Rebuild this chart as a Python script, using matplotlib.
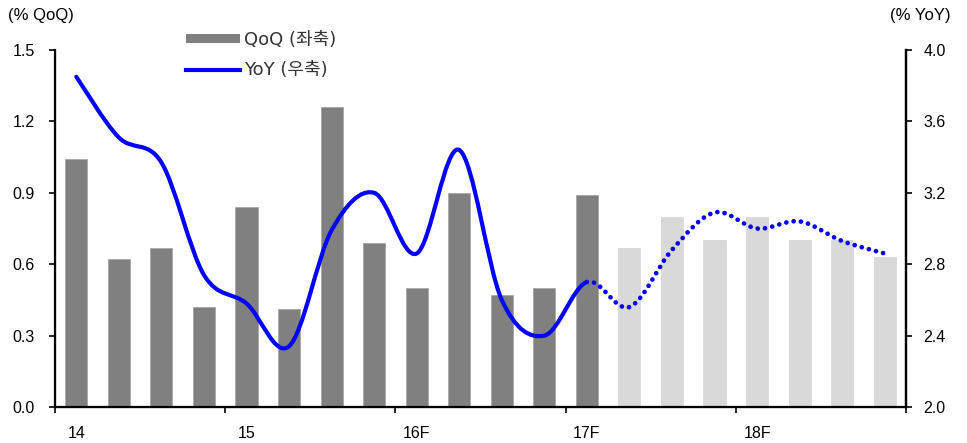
import matplotlib
matplotlib.use("Agg")
import matplotlib.pyplot as plt
from matplotlib.path import Path
from matplotlib.patches import PathPatch, Patch
from matplotlib.lines import Line2D
import numpy as np

plt.rcParams['font.family'] = ['Liberation Sans', 'DejaVu Sans']

# 분기별 데이터 (14Q1 ~ 18Q4)
quarters = ['14Q1', '14Q2', '14Q3', '14Q4', '15Q1', '15Q2', '15Q3', '15Q4',
            '16Q1', '16Q2', '16Q3', '16Q4', '17Q1', '17Q2', '17Q3', '17Q4',
            '18Q1', '18Q2', '18Q3', '18Q4']
qoq = [1.04, 0.62, 0.67, 0.42, 0.84, 0.41, 1.26, 0.69, 0.50, 0.90,
       0.47, 0.50, 0.89, 0.67, 0.80, 0.70, 0.80, 0.70, 0.70, 0.63]
yoy = [3.85, 3.51, 3.37, 2.74, 2.58, 2.34, 2.99, 3.20, 2.86, 3.44,
       2.60, 2.40, 2.70, 2.56, 2.88, 3.09, 3.00, 3.04, 2.93, 2.86]
n_actual = 13          # 17Q1 까지 실적, 이후 전망
year_labels = ['14', '15', '16F', '17F', '18F']

x = np.arange(len(quarters))

fig = plt.figure(figsize=(9.67, 4.43), dpi=100)
ax = fig.add_axes([0.0569, 0.0813, 0.88, 0.8058])

bar_colors = ['#808080' if i < n_actual else '#D9D9D9' for i in x]
edge_colors = ['#A6A6A6' if i < n_actual else '#D9D9D9' for i in x]
ax.bar(x, qoq, width=0.52, color=bar_colors, edgecolor=edge_colors, linewidth=0.6, zorder=2)

ax.set_xlim(-0.5, len(quarters) - 0.5)
ax.set_ylim(0, 1.5)
ax.set_yticks(np.arange(0, 1.51, 0.3))
ax.set_yticklabels([f'{v:.1f}' for v in np.arange(0, 1.51, 0.3)])

# 연도 경계 눈금 + 연도 라벨은 각 연도 첫 분기 위치
ax.set_xticks(np.arange(-0.5, len(quarters), 4))
ax.set_xticklabels([])
ax.set_xticks(np.arange(0, len(quarters), 4), minor=True)
ax.set_xticklabels(year_labels, minor=True)
ax.tick_params(axis='x', which='major', direction='out', length=4.5, width=1.2)
ax.tick_params(axis='x', which='minor', length=0, pad=13.5, labelsize=11.5)
ax.tick_params(axis='y', direction='out', length=4.5, width=1.2, pad=10, labelsize=11.5)
ax.spines['top'].set_visible(False)
for s in ['left', 'right', 'bottom']:
    ax.spines[s].set_linewidth(1.6)

# 우축: YoY
ax2 = ax.twinx()
ax2.set_ylim(2.0, 4.0)
ax2.set_yticks(np.arange(2.0, 4.01, 0.4))
ax2.set_yticklabels([f'{v:.1f}' for v in np.arange(2.0, 4.01, 0.4)])
ax2.tick_params(axis='y', direction='out', length=4.5, width=1.2, pad=8, labelsize=11.5)
ax2.spines['top'].set_visible(False)
ax2.spines['right'].set_linewidth(1.6)


def smooth_segments(xs, ys):
    # 엑셀식 부드러운 선: 각 구간을 3차 베지어로
    pts = np.column_stack([xs, ys]).astype(float)
    n = len(pts)
    segs = []
    for i in range(n - 1):
        p0 = pts[max(i - 1, 0)]
        p1 = pts[i]
        p2 = pts[i + 1]
        p3 = pts[min(i + 2, n - 1)]
        c1 = p1 + (p2 - p0) / 6.0
        c2 = p2 - (p3 - p1) / 6.0
        segs.append((p1, c1, c2, p2))
    return segs


def make_path(segs):
    verts = [segs[0][0]]
    codes = [Path.MOVETO]
    for _, c1, c2, p2 in segs:
        verts += [c1, c2, p2]
        codes += [Path.CURVE4] * 3
    return Path(verts, codes)


segs = smooth_segments(x, yoy)
solid = PathPatch(make_path(segs[:n_actual - 1]), facecolor='none', edgecolor='#0000FF',
                  linewidth=3.0, capstyle='round', joinstyle='round', zorder=3)
dotted = PathPatch(make_path(segs[n_actual - 1:]), facecolor='none', edgecolor='#0000FF',
                   linewidth=3.4, linestyle=(0, (0.01, 1.55)), capstyle='round', zorder=3)
ax2.add_patch(solid)
ax2.add_patch(dotted)

# 범례
handles = [Patch(facecolor='#808080', edgecolor='none'),
           Line2D([0], [0], color='#0000FF', linewidth=3.0)]
leg = fig.legend(handles, ['QoQ (좌축)', 'YoY (우축)'], loc='upper left',
                 bbox_to_anchor=(0.1923, 0.931), frameon=False,
                 borderpad=0, borderaxespad=0,
                 handlelength=3.0, handleheight=0.4, handletextpad=0.2, labelspacing=0.7,
                 prop={'family': ['DejaVu Sans', 'Noto Sans CJK KR'], 'size': 13})
for t in leg.get_texts():
    t.set_color('#333333')

fig.text(0.008, 0.964, '(% QoQ)', fontsize=12, ha='left', va='center')
fig.text(0.983, 0.964, '(% YoY)', fontsize=12, ha='right', va='center')

fig.savefig('out.png', dpi=100)
